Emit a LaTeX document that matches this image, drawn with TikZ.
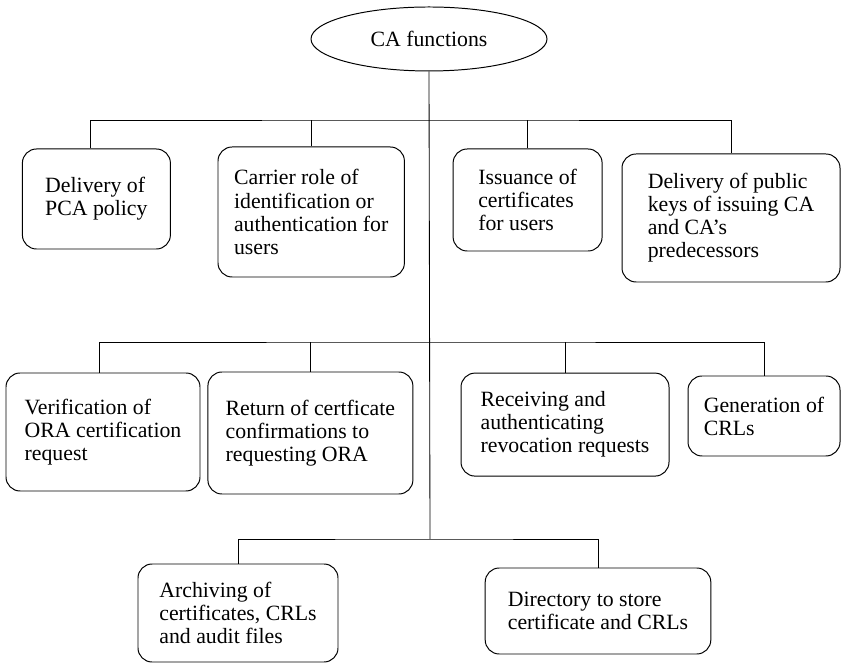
\documentclass[tikz,border=0pt]{standalone}
\usepackage{fontspec}
\setmainfont{Liberation Serif}
\usepackage{tikz}
\usetikzlibrary{positioning, shapes.geometric}

\begin{document}
\begin{tikzpicture}[
  every node/.style={font=\fontsize{15.5pt}{16.4pt}\selectfont},
  func/.style={draw, line width=0.7pt, rounded corners=10pt, align=left, inner sep=0pt},
  root/.style={draw, ellipse, line width=0.7pt, minimum width=5.9cm, minimum height=1.6cm, inner sep=0pt},
  link/.style={line width=0.6pt},
]
\useasboundingbox (0,0) rectangle (21.025,16.575);

% root
\node[root] (ca) at (10.725,15.6) {CA functions};

% junctions on the trunk
\coordinate (jA) at (10.75,13.575);
\coordinate (jB) at (10.75,8.025);
\coordinate (jC) at (10.75,3.1);

% first row
\node[func, minimum width=3.7cm, minimum height=2.5cm] (pca) at (2.41,11.6) {Delivery of\\PCA policy};
\node[func, minimum width=4.66cm, minimum height=3.25cm] (carrier) at (7.78,11.275) {Carrier role of\\identification or\\authentication for\\users};
\node[func, minimum width=3.725cm, minimum height=2.55cm] (issue) at (13.19,11.575) {Issuance of\\certificates\\for users};
\node[func, minimum width=5.45cm, minimum height=3.2cm] (keys) at (18.275,11.125) {Delivery of public\\keys of issuing CA\\and CA’s\\predecessors};

% second row
\node[func, minimum width=4.85cm, minimum height=2.95cm] (verify) at (2.575,5.775) {Verification of\\ORA certification\\request};
\node[func, minimum width=5.125cm, minimum height=3.05cm] (confirm) at (7.76,5.75) {Return of certficate\\confirmations to\\requesting ORA};
\node[func, minimum width=5.2cm, minimum height=2.575cm] (revoke) at (14.125,5.96) {Receiving and\\authenticating\\revocation requests};
\node[func, minimum width=3.8cm, minimum height=2.0cm] (crl) at (19.1,6.175) {Generation of\\CRLs};

% third row
\node[func, minimum width=5.0cm, minimum height=2.45cm] (archive) at (5.95,1.25) {Archiving of\\certificates, CRLs\\and audit files};
\node[func, minimum width=5.64cm, minimum height=2.15cm] (dir) at (14.95,1.3) {Directory to store\\certificate and CRLs};

% trunk
\draw[link] (ca.south) -- (jC);

% buses
\draw[link] ([xshift=-0.15cm]pca.north) |- (jA) -| (keys.north);
\draw[link] (carrier.north) -- (carrier.north |- jA);
\draw[link] (issue.north) -- (issue.north |- jA);

\draw[link] ([xshift=-0.1cm]verify.north) |- (jB) -| (crl.north);
\draw[link] (confirm.north) -- (confirm.north |- jB);
\draw[link] (revoke.north) -- (revoke.north |- jB);

\draw[link] (archive.north) |- (jC) -| (dir.north);

\end{tikzpicture}
\end{document}
